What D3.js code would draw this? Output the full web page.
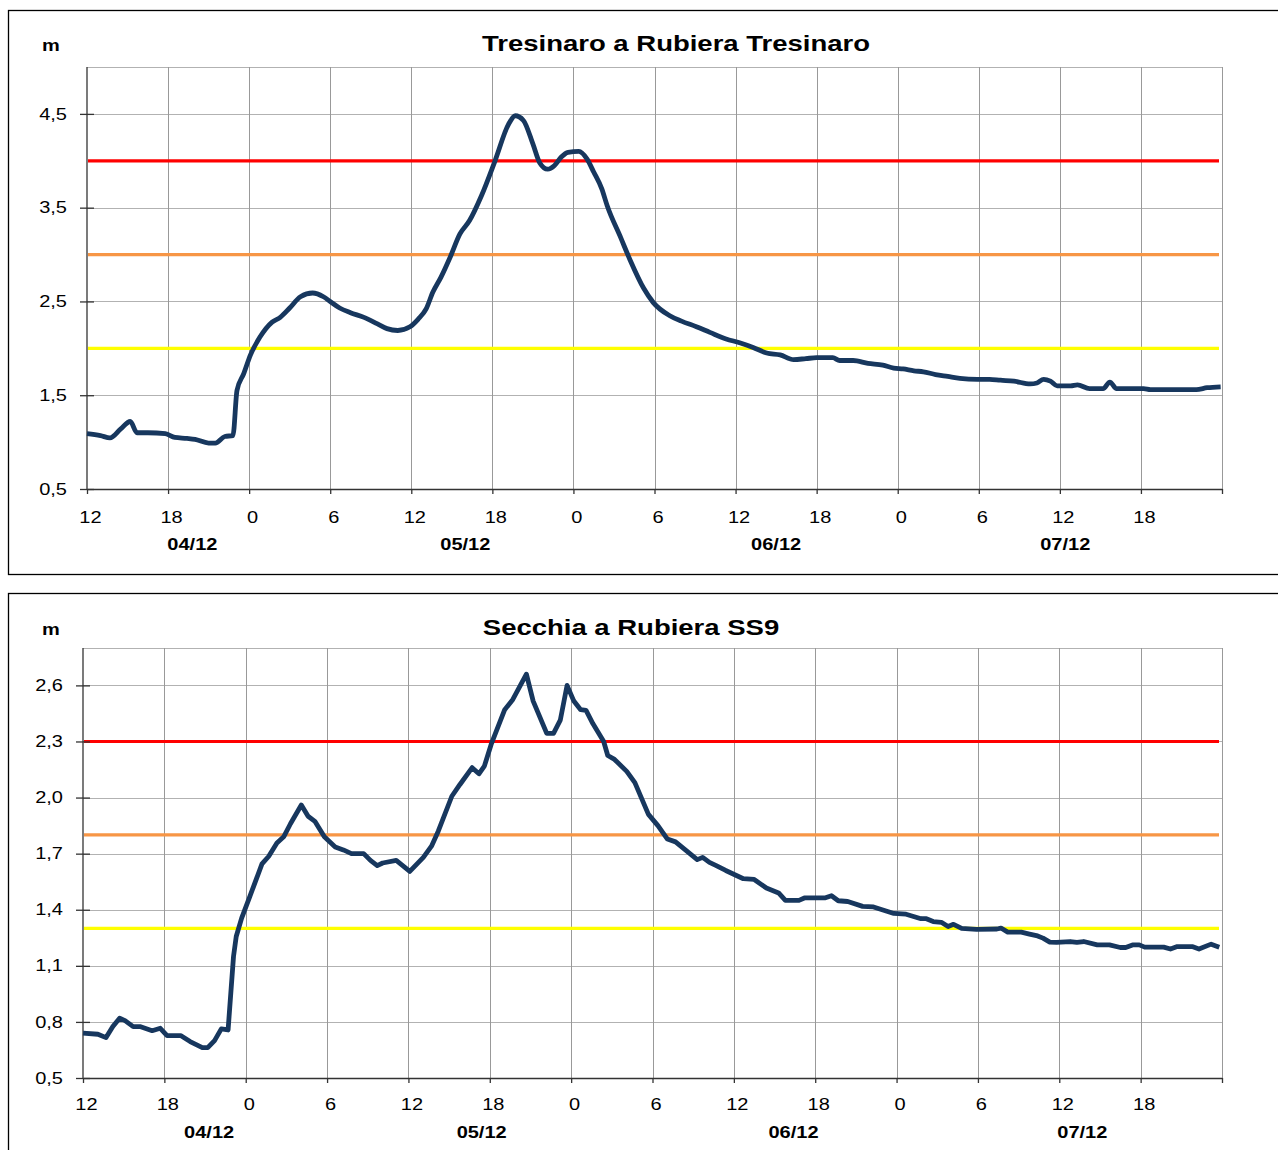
<!DOCTYPE html>
<html>
<head>
<meta charset="utf-8">
<script src="https://cdn.jsdelivr.net/npm/d3@7"></script>
<style>
  body { margin: 0; background: #fff; }
  svg { display: block; font-family: "Liberation Sans", Arial, sans-serif; }
  .grid .h { stroke: #b2b2b2; stroke-width: 1; }
  .grid .v { stroke: #999; stroke-width: 1; }
  .axis text { font-size: 16px; fill: #000; }
  .axis path, .axis line { stroke: #333; stroke-width: 1.3; }
  .day-label { font-size: 16px; font-weight: bold; }
  .chart-title { font-size: 22px; font-weight: bold; }
  .unit { font-size: 16px; font-weight: bold; }
</style>
</head>
<body>
<svg id="chart" width="1278" height="1150"></svg>
<script>
// hours counted from 04/12 12:00
const HOUR_TICKS = [0, 6, 12, 18, 24, 30, 36, 42, 48, 54, 60, 66, 72, 78, 84];
const HOUR_LABELS = ["12", "18", "0", "6", "12", "18", "0", "6", "12", "18", "0", "6", "12", "18", ""];
const DAY_LABELS = ["04/12", "05/12", "06/12", "07/12"];

// Tresinaro a Rubiera Tresinaro
const TRES_HOURS = [
  0, 1, 1.7, 2.5, 3.2, 3.7, 4.5, 5.8, 6.5, 7.4, 8, 9, 9.5, 10.2, 10.8,
  11.1, 11.6, 12.1, 12.8, 13.7, 14.3, 15, 15.8, 16.7, 17.5, 18, 18.7, 19.5,
  20.5, 21.5, 22.2, 23, 23.9, 24.5, 25.1, 25.6, 26.2, 26.9, 27.6, 28.3, 29.2,
  30.2, 31.2, 31.7, 32.3, 33, 33.5, 34.1, 34.6, 35.1, 35.6, 36.4, 37, 37.5,
  38.1, 38.5, 39.5, 40.2, 41.2, 41.9, 43.1, 44, 45.1, 46.1, 47.3, 48.3, 49.3,
  50.3, 51.3, 52.3, 53.2, 54, 55.2, 55.7, 56.7, 57.8, 58.9, 59.7, 60.4, 61.2,
  61.9, 62.8, 63.7, 64.6, 65.9, 66.8, 67.6, 68.6, 69.8, 70.3, 70.8, 71.3,
  71.8, 72.8, 73.3, 74.2, 75.2, 75.7, 76.2, 78.2, 78.7, 82.1, 82.9, 83.9,
];
const TRES_LEVELS = [
  1.09, 1.07, 1.045, 1.14, 1.22, 1.1, 1.1, 1.09, 1.05, 1.04, 1.03, 0.99, 0.99, 1.06, 1.07,
  1.55, 1.73, 1.93, 2.12, 2.28, 2.33, 2.43, 2.55, 2.59, 2.55, 2.5, 2.43, 2.38,
  2.33, 2.26, 2.21, 2.19, 2.23, 2.31, 2.42, 2.6, 2.76, 2.98, 3.22, 3.36, 3.63,
  4.0, 4.39, 4.48, 4.43, 4.18, 3.98, 3.91, 3.95, 4.04, 4.09, 4.1, 4.02, 3.88,
  3.7, 3.52, 3.18, 2.94, 2.64, 2.49, 2.35, 2.29, 2.23, 2.17, 2.1, 2.06, 2.01,
  1.95, 1.93, 1.88, 1.89, 1.9, 1.9, 1.87, 1.87, 1.84, 1.82, 1.79, 1.78, 1.76,
  1.75, 1.72, 1.7, 1.68, 1.67, 1.67, 1.66, 1.65, 1.62, 1.63, 1.67, 1.65,
  1.6, 1.6, 1.61, 1.57, 1.57, 1.64, 1.57, 1.57, 1.56, 1.56, 1.58, 1.59,
];
const TRES_TICKS = [0.5, 1.5, 2.5, 3.5, 4.5];
const TRES_THRESHOLDS = [2.0, 3.0, 4.0];

// Secchia a Rubiera SS9
const SECCHIA_HOURS = [
  0, 1.1, 1.7, 2.2, 2.7, 3.1, 3.7, 4.2, 5.1, 5.7, 6.2, 7.2, 7.9, 8.8, 9.2,
  9.7, 10.2, 10.7, 11.1, 11.3, 11.7, 12.3, 13.2, 13.7, 14.3, 14.8, 15.3, 16.1,
  16.6, 17.1, 17.8, 18.6, 19.2, 19.8, 20.7, 21.2, 21.7, 22.1, 23.1, 24.1,
  25.1, 25.7, 26.2, 27.2, 27.8, 28.7, 29.2, 29.6, 30.1, 31.1, 31.7, 32.7,
  33.2, 34.2, 34.7, 35.2, 35.7, 36.2, 36.7, 37.1, 37.6, 38.4, 38.7, 39.2,
  40.1, 40.7, 41.7, 42.4, 43.1, 43.7, 45.3, 45.7, 46.2, 46.7, 47.4, 48.7,
  49.5, 50.4, 51.3, 51.8, 52.8, 53.2, 54.7, 55.2, 55.7, 56.4, 57.5, 58.3,
  59.8, 60.7, 61.8, 62.2, 62.7, 63.3, 63.8, 64.2, 64.8, 65.9, 67.4, 67.7,
  68.2, 69.2, 69.8, 70.4, 70.8, 71.3, 71.8, 72.8, 73.3, 73.8, 74.8, 75.7,
  76.5, 76.9, 77.4, 77.9, 78.3, 79.7, 80.2, 80.7, 81.8, 82.3, 83.2, 83.8,
];
const SECCHIA_LEVELS = [
  0.74, 0.734, 0.716, 0.775, 0.82, 0.807, 0.775, 0.775, 0.753, 0.766, 0.727, 0.727, 0.695, 0.662, 0.662,
  0.7, 0.763, 0.757, 1.15, 1.257, 1.355, 1.47, 1.645, 1.686, 1.757, 1.79, 1.86, 1.96,
  1.9, 1.873, 1.79, 1.736, 1.72, 1.7, 1.7, 1.664, 1.636, 1.65, 1.664, 1.605,
  1.68, 1.74, 1.82, 2.007, 2.07, 2.16, 2.127, 2.168, 2.284, 2.47, 2.525, 2.66,
  2.516, 2.343, 2.343, 2.414, 2.6, 2.516, 2.47, 2.466, 2.396, 2.3, 2.225, 2.204,
  2.14, 2.08, 1.91, 1.85, 1.778, 1.763, 1.668, 1.68, 1.653, 1.636, 1.61, 1.566,
  1.562, 1.516, 1.49, 1.45, 1.45, 1.463, 1.463, 1.475, 1.448, 1.444, 1.418, 1.415,
  1.38, 1.376, 1.352, 1.352, 1.337, 1.333, 1.31, 1.322, 1.3, 1.295, 1.297, 1.302,
  1.28, 1.28, 1.27, 1.26, 1.248, 1.227, 1.225, 1.23, 1.225, 1.23, 1.212, 1.212,
  1.198, 1.198, 1.212, 1.212, 1.2, 1.2, 1.19, 1.203, 1.203, 1.19, 1.216, 1.2,
];
const SECCHIA_TICKS = [0.5, 0.8, 1.1, 1.4, 1.7, 2.0, 2.3, 2.6];
const SECCHIA_THRESHOLDS = [1.3, 1.8, 2.3];

const THRESHOLD_COLORS = ["#ffff00", "#f79646", "#ff0000"];
const LINE_COLOR = "#17375e";

// the source picture is wider than tall, so all text is drawn stretched
const TEXT_STRETCH = 1.25;

// put a text at (x, y) and stretch it horizontally
function place(sel, x, y) {
  sel.attr("x", null)
    .attr("y", null)
    .attr("transform", `translate(${x}, ${y}) scale(${TEXT_STRETCH}, 1)`);
}

class LevelChart {
  constructor(_config) {
    this.config = _config;
    this.initVis();
  }

  initVis() {
    let vis = this;
    const c = vis.config;
    const svg = d3.select("#chart");

    // outer frame, right and bottom edges run off the picture
    svg.append("rect")
      .attr("x", c.box.x + 0.5)
      .attr("y", c.box.y + 0.5)
      .attr("width", c.box.w)
      .attr("height", c.box.h)
      .attr("fill", "none")
      .attr("stroke", "#000")
      .attr("stroke-width", 1.3);

    vis.g = svg.append("g");

    vis.xScale = d3.scaleLinear().domain([0, 84]).range([c.left, c.right]);
    vis.yScale = d3.scaleLinear().domain(c.yDomain).range([c.bottom, c.top]);

    // grid
    const grid = vis.g.append("g").attr("class", "grid");
    grid.selectAll(".h")
      .data(c.yTicks.concat([c.yDomain[1]]))
      .join("line")
      .attr("class", "h")
      .attr("x1", c.left)
      .attr("x2", c.right)
      .attr("y1", (d) => Math.round(vis.yScale(d)) + 0.5)
      .attr("y2", (d) => Math.round(vis.yScale(d)) + 0.5);
    grid.selectAll(".v")
      .data(HOUR_TICKS.slice(1))
      .join("line")
      .attr("class", "v")
      .attr("x1", (d) => Math.round(vis.xScale(d)) + 0.5)
      .attr("x2", (d) => Math.round(vis.xScale(d)) + 0.5)
      .attr("y1", c.top)
      .attr("y2", c.bottom);

    // threshold lines
    vis.g.selectAll(".threshold")
      .data(c.thresholds)
      .join("line")
      .attr("class", "threshold")
      .attr("x1", c.left + 1)
      .attr("x2", c.right - 3)
      .attr("y1", (d) => vis.yScale(d))
      .attr("y2", (d) => vis.yScale(d))
      .attr("stroke", (d, i) => THRESHOLD_COLORS[i])
      .attr("stroke-width", 3.2);

    // axes
    const yAxis = d3.axisLeft(vis.yScale)
      .tickValues(c.yTicks)
      .tickSize(0)
      .tickSizeOuter(0)
      .tickFormat((d) => d3.format(".1f")(d).replace(".", ","));
    vis.g.append("g")
      .attr("class", "axis")
      .attr("transform", `translate(${c.left}, 0)`)
      .call(yAxis)
      .call((g) => g.select(".domain").attr("d", `M0,${c.top}V${c.bottom}`))
      .call((g) => g.selectAll(".tick line").attr("x1", 7).attr("x2", -7))
      .call((g) => g.selectAll(".tick text").call(place, -20, 0));

    const xAxis = d3.axisBottom(vis.xScale)
      .tickValues(HOUR_TICKS)
      .tickSize(5)
      .tickSizeOuter(0)
      .tickFormat((d, i) => HOUR_LABELS[i]);
    vis.g.append("g")
      .attr("class", "axis")
      .attr("transform", `translate(0, ${c.bottom})`)
      .call(xAxis)
      .call((g) => g.selectAll(".tick text").attr("dy", null).call(place, 3, c.labelGap));

    // day labels
    vis.g.selectAll(".day-label")
      .data(DAY_LABELS)
      .join("text")
      .attr("class", "day-label")
      .attr("text-anchor", "middle")
      .text((d) => d)
      .each(function (d, i) {
        d3.select(this).call(place, vis.xScale(c.dayAt[i]), c.bottom + c.dayGap);
      });

    // series
    const line = d3.line()
      .x((d) => vis.xScale(d[0]))
      .y((d) => vis.yScale(d[1]))
      .curve(c.curve);
    vis.g.append("path")
      .datum(d3.zip(c.hours, c.levels))
      .attr("fill", "none")
      .attr("stroke", LINE_COLOR)
      .attr("stroke-width", 4.8)
      .attr("stroke-linejoin", "round")
      .attr("d", line);

    // titles
    vis.g.append("text")
      .attr("class", "chart-title")
      .attr("text-anchor", "middle")
      .text(c.title)
      .call(place, c.titleX, c.top - c.titleGap);
    vis.g.append("text")
      .attr("class", "unit")
      .attr("text-anchor", "middle")
      .text("m")
      .call(place, 51, c.top - c.titleGap);
  }
}

new LevelChart({
  title: "Tresinaro a Rubiera Tresinaro",
  titleX: 676,
  titleGap: 16,
  box: { x: 8, y: 10, w: 1290, h: 564 },
  left: 87, right: 1222, top: 67, bottom: 489,
  labelGap: 34,
  dayGap: 61,
  yDomain: [0.5, 5.0],
  yTicks: TRES_TICKS,
  thresholds: TRES_THRESHOLDS,
  hours: TRES_HOURS,
  levels: TRES_LEVELS,
  dayAt: [7.8, 28.0, 51.0, 72.4],
  curve: d3.curveMonotoneX,
});

new LevelChart({
  title: "Secchia a Rubiera SS9",
  titleX: 631,
  titleGap: 13,
  box: { x: 8, y: 593, w: 1290, h: 600 },
  left: 83, right: 1222, top: 648, bottom: 1078,
  labelGap: 32,
  dayGap: 60,
  yDomain: [0.5, 2.8],
  yTicks: SECCHIA_TICKS,
  thresholds: SECCHIA_THRESHOLDS,
  hours: SECCHIA_HOURS,
  levels: SECCHIA_LEVELS,
  dayAt: [9.3, 29.4, 52.4, 73.7],
  curve: d3.curveLinear,
});
</script>
</body>
</html>
